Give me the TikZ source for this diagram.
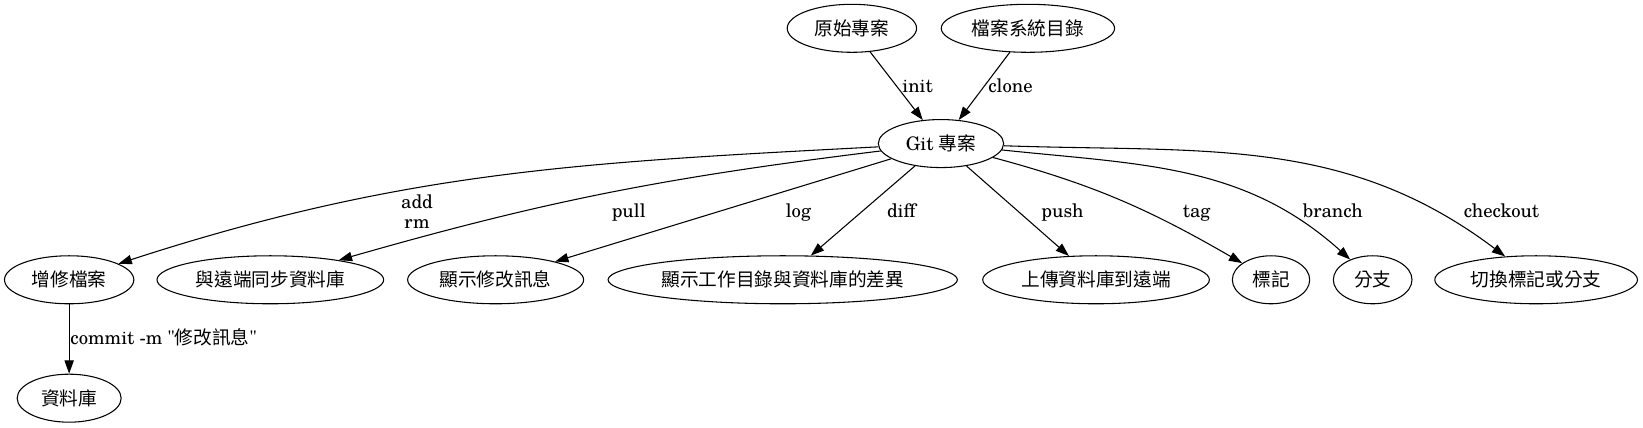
\documentclass[tikz,border=0pt]{standalone}
\usepackage{fontspec}
\setmainfont{texgyreschola-regular.otf}[Ligatures=TeXOff]
\newfontfamily\cjk{Noto Sans CJK TC}
\usetikzlibrary{arrows.meta,shapes.geometric}
\tikzset{
  gv/.style={ellipse,draw,line width=0.8pt,inner sep=0pt,minimum height=36pt,font=\fontsize{14}{15}\selectfont},
  lbl/.style={inner sep=0pt,font=\fontsize{14}{15}\selectfont},
  arr/.style={line width=0.8pt,-{Triangle[length=10pt,width=7pt]}}
}
\begin{document}
\begin{tikzpicture}[x=0.78585pt,y=-0.78585pt]
\useasboundingbox (0,0) rectangle (1568,408);
% nodes
\node[gv,minimum width=97pt]  (orig)  at (813,27)  {\cjk 原始專案};
\node[gv,minimum width=130pt] (fs)    at (981,27)  {\cjk 檔案系統目錄};
\node[gv,minimum width=94pt]  (git)   at (898,137) {Git {\cjk 專案}};
\node[gv,minimum width=97pt]  (addf)  at (66,267)  {\cjk 增修檔案};
\node[gv,minimum width=170pt] (sync)  at (258,267) {\cjk 與遠端同步資料庫};
\node[gv,minimum width=132pt] (logn)  at (473,267) {\cjk 顯示修改訊息};
\node[gv,minimum width=262pt] (diffn) at (747,267) {\cjk 顯示工作目錄與資料庫的差異};
\node[gv,minimum width=170pt] (push)  at (1046,267){\cjk 上傳資料庫到遠端};
\node[gv,minimum width=58pt]  (tagn)  at (1213,267){\cjk 標記};
\node[gv,minimum width=59pt]  (br)    at (1310,267){\cjk 分支};
\node[gv,minimum width=152pt] (co)    at (1466,267){\cjk 切換標記或分支};
\node[gv,minimum width=78pt]  (repo)  at (66,380)  {\cjk 資料庫};
% edges
\draw[arr] (orig) -- (git);
\draw[arr] (fs) -- (git);
\draw[arr] (git) to[out=183,in=18] (addf);
\draw[arr] (git) to[out=187,in=16] (sync);
\draw[arr] (git) -- (logn);
\draw[arr] (git) -- (diffn);
\draw[arr] (git) -- (push);
\draw[arr] (git) to[out=-15,in=150] (tagn);
\draw[arr] (git) to[out=-6,in=138] (br);
\draw[arr] (git) to[out=-2,in=143] (co);
\draw[arr] (addf) -- (repo);
% labels
\node[lbl,anchor=base west] (linit)  at (861,88)  {init};
\node[lbl,anchor=base west] (lclone) at (943,88)  {clone};
\node[lbl,align=center]     (ladd)   at (398,202) {add\\rm};
\node[lbl,anchor=base] (lpull)  at (600,208) {pull};
\node[lbl,anchor=base] (llog)   at (762,208) {log};
\node[lbl,anchor=base] (ldiff)  at (860,208) {diff};
\node[lbl,anchor=base] (lpush)  at (1014,208) {push};
\node[lbl,anchor=base] (ltag)   at (1142,208) {tag};
\node[lbl,anchor=base] (lbr)    at (1272,208) {branch};
\node[lbl,anchor=base] (lco)    at (1433,208) {checkout};
\node[lbl,anchor=base west] (lcommit) at (67,329) {commit -m "{\cjk 修改訊息}"};
\end{tikzpicture}
\end{document}
